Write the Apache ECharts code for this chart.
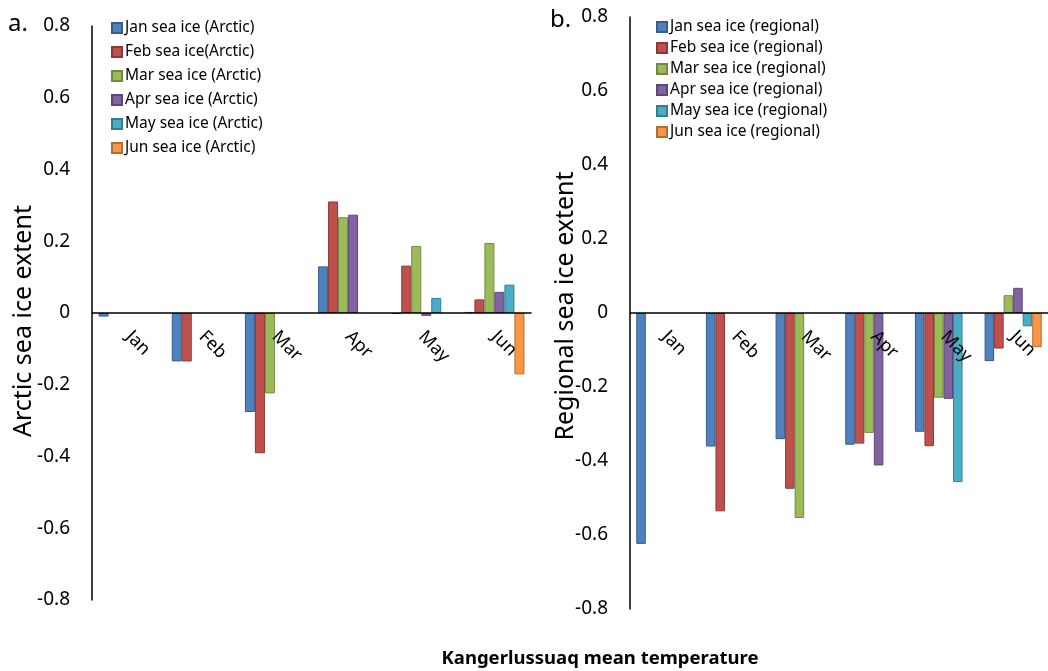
<!DOCTYPE html>
<html>
<head>
<meta charset="utf-8">
<script src="https://cdn.jsdelivr.net/npm/echarts@6/dist/echarts.min.js"></script>
<style>
html,body{margin:0;padding:0;background:#fff;}
#chart{width:1048px;height:671px;}
</style>
</head>
<body>
<div id="chart"></div>
<script>
const categories = ['Jan', 'Feb', 'Mar', 'Apr', 'May', 'Jun'];
const yTicks = { min: -0.8, max: 0.8, interval: 0.2 };

const arcticNames = ['Jan sea ice (Arctic)', 'Feb sea ice(Arctic)', 'Mar sea ice (Arctic)', 'Apr sea ice (Arctic)', 'May sea ice (Arctic)', 'Jun sea ice (Arctic)'];
const arcticJan = [-0.010, -0.135, -0.276, 0.130, -0.003, 0.003];
const arcticFeb = [null, -0.135, -0.391, 0.311, 0.132, 0.038];
const arcticMar = [null, null, -0.224, 0.267, 0.187, 0.195];
const arcticApr = [null, null, null, 0.274, -0.008, 0.059];
const arcticMay = [null, null, null, null, 0.042, 0.079];
const arcticJun = [null, null, null, null, null, -0.171];

const regionalNames = ['Jan sea ice (regional)', 'Feb sea ice (regional)', 'Mar sea ice (regional)', 'Apr sea ice (regional)', 'May sea ice (regional)', 'Jun sea ice (regional)'];
const regionalJan = [-0.624, -0.361, -0.341, -0.356, -0.321, -0.130];
const regionalFeb = [null, -0.536, -0.475, -0.353, -0.360, -0.096];
const regionalMar = [null, null, -0.554, -0.324, -0.229, 0.048];
const regionalApr = [null, null, null, -0.412, -0.232, 0.068];
const regionalMay = [null, null, null, null, -0.457, -0.036];
const regionalJun = [null, null, null, null, null, -0.092];

const fills = ['#4F81BD', '#C0504D', '#9BBB59', '#8064A2', '#4BACC6', '#F79646'];
const borders = ['#385D8A', '#8C3836', '#71893F', '#5C4776', '#357D91', '#B66D31'];
const FONT = 'Noto Sans';

const arcticData = [arcticJan, arcticFeb, arcticMar, arcticApr, arcticMay, arcticJun];
const regionalData = [regionalJan, regionalFeb, regionalMar, regionalApr, regionalMay, regionalJun];

// grid geometry
const grids = [
  { left: 92, top: 26, width: 439, height: 574 },
  { left: 630, top: 17, width: 426, height: 592 }
];

function makeSeries(names, data, idx) {
  return names.map((n, i) => ({
    name: n,
    type: 'bar',
    xAxisIndex: idx,
    yAxisIndex: idx,
    data: data[i],
    barGap: '0%',
    barCategoryGap: '18%',
    itemStyle: { color: fills[i], borderColor: borders[i], borderWidth: 1 },
    emphasis: { disabled: true },
    animation: false
  }));
}

function xAxis(idx) {
  // place the category axis (line + labels) at the value 0 level
  const zeroFrac = (0 - yTicks.min) / (yTicks.max - yTicks.min);
  return {
    type: 'category', gridIndex: idx, data: categories,
    position: 'bottom',
    z: 5,
    offset: -grids[idx].height * zeroFrac,
    axisLine: { onZero: false, lineStyle: { color: '#000', width: 1.5 } },
    axisTick: { show: false },
    axisLabel: { rotate: -45, margin: 21, fontSize: 18, color: '#000', fontFamily: FONT }
  };
}
function yAxis(idx) {
  return {
    type: 'value', gridIndex: idx, min: yTicks.min, max: yTicks.max, interval: yTicks.interval,
    splitLine: { show: false },
    axisLine: { show: true, lineStyle: { color: '#000', width: 1.5 } },
    axisTick: { show: false },
    axisLabel: { margin: 22, fontSize: 19, color: '#000', fontFamily: FONT }
  };
}

const chart = echarts.init(document.getElementById('chart'));
chart.setOption({
  backgroundColor: '#fff',
  animation: false,
  grid: grids,
  legend: [
    { data: arcticNames, orient: 'vertical', left: 106, top: 15, icon: 'rect', itemWidth: 10, itemHeight: 10, itemGap: 8,
      textStyle: { fontSize: 15.5, color: '#000', fontFamily: FONT, padding: [0, 0, 0, -2] } },
    { data: regionalNames, orient: 'vertical', left: 651, top: 14, icon: 'rect', itemWidth: 10, itemHeight: 10, itemGap: 5,
      textStyle: { fontSize: 15.5, color: '#000', fontFamily: FONT, padding: [0, 0, 0, -2] } }
  ],
  xAxis: [xAxis(0), xAxis(1)],
  yAxis: [yAxis(0), yAxis(1)],
  series: makeSeries(arcticNames, arcticData, 0).concat(makeSeries(regionalNames, regionalData, 1)),
  graphic: [
    { type: 'text', left: 8, top: 12, style: { text: 'a.', fontSize: 24, fill: '#000', fontFamily: FONT } },
    { type: 'text', left: 550, top: 8, style: { text: 'b.', fontSize: 24, fill: '#000', fontFamily: FONT } },
    { type: 'text', x: 24, y: 321, rotation: Math.PI / 2,
      style: { text: 'Arctic sea ice extent', fontSize: 25, fill: '#000', fontFamily: FONT, align: 'center', verticalAlign: 'middle' } },
    { type: 'text', x: 566, y: 306, rotation: Math.PI / 2,
      style: { text: 'Regional sea ice extent', fontSize: 25, fill: '#000', fontFamily: FONT, align: 'center', verticalAlign: 'middle' } },
    { type: 'text', x: 600, y: 659,
      style: { text: 'Kangerlussuaq mean temperature', fontSize: 18.5, fontWeight: 'bold', fill: '#000', fontFamily: FONT, align: 'center', verticalAlign: 'middle' } }
  ]
});
</script>
</body>
</html>
